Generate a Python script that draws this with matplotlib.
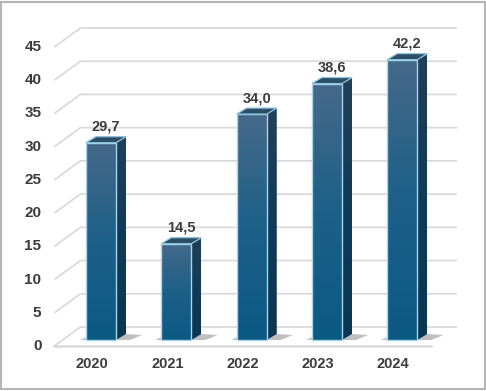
import matplotlib
matplotlib.use('Agg')
import matplotlib.pyplot as plt
import numpy as np
from matplotlib.transforms import IdentityTransform
from matplotlib.patches import Polygon, Rectangle
from matplotlib.colors import LinearSegmentedColormap

years = ['2020', '2021', '2022', '2023', '2024']
values = [29.7, 14.5, 34.0, 38.6, 42.2]
value_labels = ['29,7', '14,5', '34,0', '38,6', '42,2']
yticks = [0, 5, 10, 15, 20, 25, 30, 35, 40, 45]

W, H = 486, 391
fig = plt.figure(figsize=(W / 100, H / 100), dpi=100)
fig.patch.set_facecolor('white')
ax = fig.add_axes([54.4 / W, 45 / H, 376.6 / W, 299 / H])
ax.set_xlim(-0.5, len(years) - 0.5)
ax.set_ylim(0, 45)
ax.axis('off')

ID = IdentityTransform()
BACK = (26, 19)
BF = (9, 6)     # bar front plane offset
BB = (19, 12)   # bar back plane offset
HALF = 0.2
GRID = '#dadada'
TXT = '#3c3c3c'
FONT = 'Liberation Sans'


def pt(x, v, d=(0, 0)):
    p = ax.transData.transform((x, v))
    return (p[0] + d[0], p[1] + d[1])


# grid / walls
for v in yticks:
    a = pt(-0.5, v)
    b = pt(-0.5, v, BACK)
    c = pt(len(years) - 0.5, v, BACK)
    ax.plot([a[0], b[0], c[0]], [a[1], b[1], c[1]], color=GRID, lw=1.3,
            transform=ID, clip_on=False, zorder=1, solid_capstyle='butt')
# front floor edge
a = pt(-0.5, 0)
c = pt(len(years) - 0.5, 0)
ax.plot([a[0], c[0]], [a[1], c[1]], color=GRID, lw=1.8, transform=ID,
        clip_on=False, zorder=1)

front_cmap = LinearSegmentedColormap.from_list('f', ['#46698a', '#1d6088', '#0a5a84'])
side_cmap = LinearSegmentedColormap.from_list('s', ['#223f57', '#103b58', '#0b3551'])
grad = np.linspace(0, 1, 256).reshape(-1, 1)

for i, v in enumerate(values):
    # floor shadow
    F = pt(i + HALF, 0, BF)
    sh = Polygon([F, (F[0] + 10, F[1] + 6), (F[0] + 26, F[1] + 5), (F[0] + 14, F[1])],
                 closed=True, transform=ID, facecolor='#4a4a4a', alpha=0.35,
                 edgecolor='none', clip_on=False, zorder=2)
    ax.add_artist(sh)
    L = pt(i - HALF, 0, BF)
    sh2 = Polygon([(L[0] - 6, L[1]), L, (L[0], L[1] + 3)], closed=True,
                  transform=ID, facecolor='#555555', alpha=0.35,
                  edgecolor='none', clip_on=False, zorder=2)
    ax.add_artist(sh2)

    # front face with gradient
    p0 = pt(i - HALF, 0, BF)
    p1 = pt(i + HALF, v, BF)
    im = ax.imshow(grad, cmap=front_cmap, extent=(p0[0], p1[0], p0[1], p1[1]),
                   origin='upper', aspect='auto', transform=ID, zorder=3,
                   interpolation='bilinear')
    im.set_clip_on(False)
    ax.add_patch(Rectangle(p0, p1[0] - p0[0], p1[1] - p0[1], transform=ID,
                           fill=False, edgecolor='#a6d6ee', lw=1.0,
                           clip_on=False, zorder=4))

    # side face
    s = [pt(i + HALF, 0, BF), pt(i + HALF, 0, BB), pt(i + HALF, v, BB), pt(i + HALF, v, BF)]
    side = Polygon(s, closed=True, transform=ID, facecolor='none',
                   edgecolor='none', clip_on=False)
    ax.add_patch(side)
    xs = [q[0] for q in s]
    ys = [q[1] for q in s]
    im2 = ax.imshow(grad, cmap=side_cmap, extent=(min(xs), max(xs), min(ys), max(ys)),
                    origin='upper', aspect='auto', transform=ID, zorder=3,
                    interpolation='bilinear')
    im2.set_clip_path(side)

    # top face
    t = [pt(i - HALF, v, BF), pt(i + HALF, v, BF), pt(i + HALF, v, BB), pt(i - HALF, v, BB)]
    ax.add_patch(Polygon(t, closed=True, transform=ID, facecolor='#2d4e67',
                         edgecolor='#8dc3de', lw=0.9, clip_on=False, zorder=4))

    # value label
    lp = pt(i, v, (14, 22))
    ax.text(lp[0], lp[1], value_labels[i], transform=ID, ha='center', va='center',
            fontsize=10.5, fontweight='bold', color=TXT, family=FONT)

    # category label
    cp = pt(i, 0, (0, -18))
    ax.text(cp[0], cp[1], years[i], transform=ID, ha='center', va='center',
            fontsize=10.5, fontweight='bold', color=TXT, family=FONT)

for v in yticks:
    tp = pt(-0.5, v, (-13, 0))
    ax.text(tp[0], tp[1], str(v), transform=ID, ha='right', va='center',
            fontsize=11, fontweight='bold', color=TXT, family=FONT)

ax.set_xlim(-0.5, len(years) - 0.5)
ax.set_ylim(0, 45)

fig.add_artist(Rectangle((1.0 / W, 2.5 / H), (W - 2.0) / W, (H - 4.0) / H,
                         transform=fig.transFigure, fill=False,
                         edgecolor='#b5b5b5', lw=1.5))

fig.savefig('out.png', dpi=100)
